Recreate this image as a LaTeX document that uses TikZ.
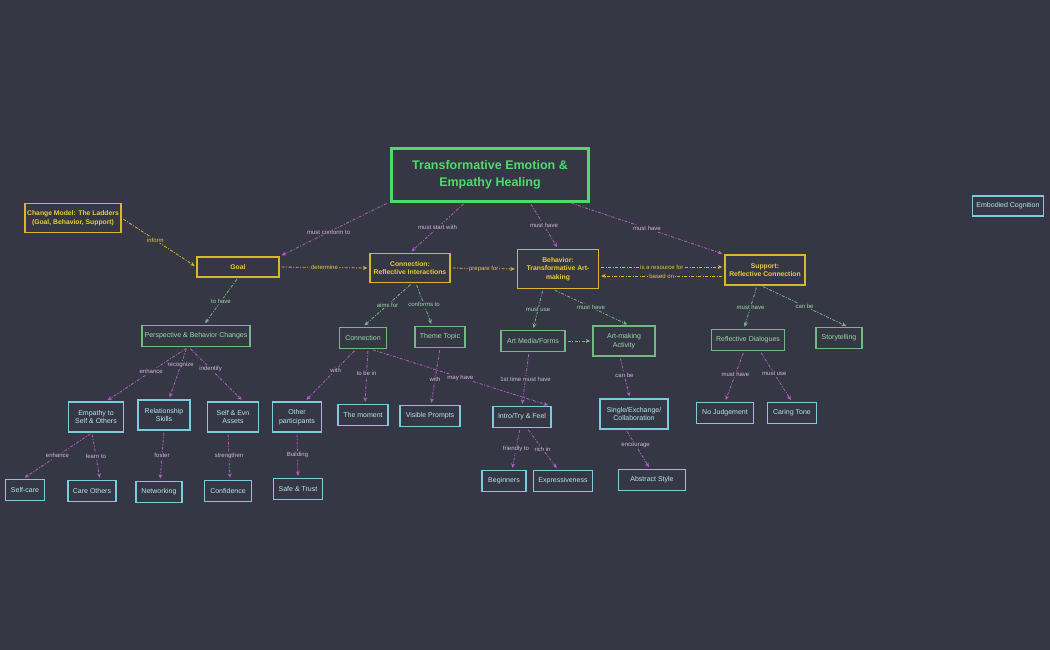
\documentclass[tikz,border=0pt]{standalone}
\usepackage{fontspec}
\setmainfont{Liberation Sans}
\usetikzlibrary{arrows.meta}
\definecolor{bg}{HTML}{353744}
\definecolor{yel}{HTML}{D9B62A}
\definecolor{ytx}{HTML}{E8CC3A}
\definecolor{tgreen}{HTML}{4EDB6C}
\definecolor{mgreen}{HTML}{74B985}
\definecolor{gtx}{HTML}{9BD9A8}
\definecolor{cyan}{HTML}{7CCCDD}
\definecolor{ctx}{HTML}{B5E6F0}
\definecolor{purp}{HTML}{B45CC6}
\definecolor{ptx}{HTML}{D7B5E2}
\tikzset{
 box/.style={draw, line width=1.4pt, fill=bg, font=\fontsize{7}{8.5}\selectfont, align=center, inner sep=0pt, minimum height=21pt},
 ybox/.style={box, draw=yel, text=ytx, font=\fontsize{6.8}{8.5}\selectfont\bfseries},
 gbox/.style={box, draw=mgreen, text=gtx},
 cbox/.style={box, draw=cyan, text=ctx},
 edge/.style={dash pattern=on 3pt off 1.5pt on 1pt off 1.5pt, line width=0.8pt, -{Stealth[length=4.5pt,width=4pt]}, shorten >=2pt, shorten <=2pt},
 pe/.style={edge, draw=purp},
 ye/.style={edge, draw=yel},
 ge/.style={edge, draw=mgreen},
 lab/.style={fill=bg, inner sep=1pt, font=\fontsize{6}{7}\selectfont},
 pl/.style={lab, text=ptx},
 yl/.style={lab, text=ytx},
 gl/.style={lab, text=gtx},
}
\begin{document}
\begin{tikzpicture}[x=1pt,y=-1pt]
\fill[bg] (0,0) rectangle (1050,650);
\useasboundingbox (0,0) rectangle (1050,650);
% nodes
\node[box, draw=tgreen, text=tgreen, line width=2.2pt, minimum width=197pt, minimum height=53pt, font=\fontsize{12.5}{17}\selectfont\bfseries] (title) at (490,175) {Transformative Emotion \&\\Empathy Healing};
\node[ybox, minimum width=96pt, minimum height=29pt] (change) at (73,218) {Change Model: The Ladders\\(Goal, Behavior, Support)};
\node[ybox, minimum width=82pt, minimum height=20pt] (goal) at (238,267) {Goal};
\node[ybox, minimum width=80pt, minimum height=29pt] (conri) at (410,268) {Connection:\\Reflective Interactions};
\node[ybox, minimum width=81pt, minimum height=39pt] (beh) at (558,269) {Behavior:\\Transformative Art-\\making};
\node[ybox, minimum width=80pt, minimum height=30pt] (sup) at (765,270) {Support:\\Reflective Connection};
\node[cbox, minimum width=71pt, minimum height=20pt] (emb) at (1008,206) {Embodied Cognition};
\node[gbox, minimum width=108pt] (pbc) at (196,336) {Perspective \& Behavior Changes};
\node[gbox, minimum width=47pt] (con) at (363,338) {Connection};
\node[gbox, minimum width=50pt] (theme) at (440,337) {Theme Topic};
\node[gbox, minimum width=64pt] (media) at (533,341) {Art Media/Forms};
\node[gbox, minimum width=62pt, minimum height=30pt] (act) at (624,341) {Art-making\\Activity};
\node[gbox, minimum width=73pt] (rd) at (748,340) {Reflective Dialogues};
\node[gbox, minimum width=46pt] (story) at (839,338) {Storytelling};
\node[cbox, minimum width=55pt, minimum height=30pt] (emp) at (96,417) {Empathy to\\Self \& Others};
\node[cbox, minimum width=52pt, minimum height=30pt] (rel) at (164,415) {Relationship\\Skills};
\node[cbox, minimum width=51pt, minimum height=30pt] (sea) at (233,417) {Self \& Evn\\Assets};
\node[cbox, minimum width=49pt, minimum height=30pt] (oth) at (297,417) {Other\\participants};
\node[cbox, minimum width=50pt] (mom) at (363,415) {The moment};
\node[cbox, minimum width=60pt] (vis) at (430,416) {Visible Prompts};
\node[cbox, minimum width=58pt] (intro) at (522,417) {Intro/Try \& Feel};
\node[cbox, minimum width=68pt, minimum height=30pt] (single) at (634,414) {Single/Exchange/\\Collaboration};
\node[cbox, minimum width=57pt] (noj) at (725,413) {No Judgement};
\node[cbox, minimum width=49pt] (care) at (792,413) {Caring Tone};
\node[cbox, minimum width=39pt] (selfc) at (25,490) {Self-care};
\node[cbox, minimum width=48pt] (careo) at (92,491) {Care Others};
\node[cbox, minimum width=46pt] (net) at (159,492) {Networking};
\node[cbox, minimum width=47pt] (conf) at (228,491) {Confidence};
\node[cbox, minimum width=49pt] (safe) at (298,489) {Safe \& Trust};
\node[cbox, minimum width=44pt] (beg) at (504,481) {Beginners};
\node[cbox, minimum width=59pt] (expr) at (563,481) {Expressiveness};
\node[cbox, minimum width=67pt] (abs) at (652,480) {Abstract Style};
% edges from title
\draw[pe] ([xshift=-2pt]title.south west) -- (goal.north east) node[pl,pos=0.55]{must conform to};
\draw[pe] ([xshift=-25pt]title.south) -- ([xshift=0pt]conri.north) node[pl,pos=0.5]{must start with};
\draw[pe] ([xshift=40pt]title.south) -- (beh.north) node[pl,pos=0.5]{must have};
\draw[pe] ([xshift=-20pt]title.south east) -- (sup.north west) node[pl,pos=0.5]{must have};
% yellow
\draw[ye] (change.east) -- (goal.west) node[yl,pos=0.45]{inform};
\draw[ye] (goal.east) -- (conri.west) node[yl,pos=0.5]{determine};
\draw[ye] (conri.east) -- (beh.west) node[yl,pos=0.5]{prepare for};
\draw[ye] ([yshift=2pt]beh.east) -- ([yshift=3pt]sup.west) node[yl,pos=0.5]{is a resource for};
\draw[ye] ([yshift=-6pt]sup.west) -- ([yshift=-7pt]beh.east) node[yl,pos=0.5]{based on};
% green
\draw[ge] (goal.south) -- ([xshift=8pt]pbc.north) node[gl,pos=0.5]{to have};
\draw[ge] ([xshift=2pt]conri.south) -- (con.north) node[gl,pos=0.5]{aims for};
\draw[ge] ([xshift=6pt]conri.south) -- ([xshift=-8pt]theme.north) node[gl,pos=0.5]{conforms to};
\draw[ge] ([xshift=-15pt]beh.south) -- (media.north) node[gl,pos=0.5]{must use};
\draw[ge] ([xshift=-5pt]beh.south) -- ([xshift=5pt]act.north) node[gl,pos=0.5]{must have};
\draw[ge] (media.east) -- (act.west);
\draw[ge] ([xshift=-8pt]sup.south) -- ([xshift=-4pt]rd.north) node[gl,pos=0.5]{must have};
\draw[ge] ([xshift=-4pt]sup.south) -- ([xshift=9pt]story.north) node[gl,pos=0.5]{can be};
% purple lower
\draw[pe] ([xshift=-8pt]pbc.south) -- ([xshift=10pt]emp.north) node[pl,pos=0.45]{enhance};
\draw[pe] ([xshift=-9pt]pbc.south) -- ([xshift=5pt]rel.north) node[pl,pos=0.35]{recognize};
\draw[pe] ([xshift=-7pt]pbc.south) -- ([xshift=10pt]sea.north) node[pl,pos=0.4]{indentify};
\draw[pe] ([xshift=-4pt]emp.south) -- ([xshift=-2pt]selfc.north) node[pl,pos=0.5]{enhance};
\draw[pe] ([xshift=-4pt]emp.south) -- ([xshift=8pt]careo.north) node[pl,pos=0.5]{learn to};
\draw[pe] (rel.south) -- ([xshift=1pt]net.north) node[pl,pos=0.5]{foster};
\draw[pe] ([xshift=-5pt]sea.south) -- ([xshift=2pt]conf.north) node[pl,pos=0.5]{strengthen};
\draw[pe] ([xshift=-7pt]con.south) -- ([xshift=8pt]oth.north) node[pl,pos=0.4]{with};
\draw[pe] ([xshift=5pt]con.south) -- ([xshift=2pt]mom.north) node[pl,pos=0.45]{to be in};
\draw[pe] ([xshift=8pt]con.south) -- ([xshift=28pt]intro.north) node[pl,pos=0.5]{may have};
\draw[pe] (theme.south) -- ([xshift=1pt]vis.north) node[pl,pos=0.55]{with};
\draw[pe] (oth.south) -- (safe.north) node[pl,pos=0.5]{Building};
\draw[pe] ([xshift=-4pt]media.south) -- (intro.north) node[pl,pos=0.5]{1st time must have};
\draw[pe] ([xshift=-4pt]act.south) -- ([xshift=-4pt]single.north) node[pl,pos=0.45]{can be};
\draw[pe] ([xshift=-8pt]single.south) -- ([xshift=-2pt]abs.north) node[pl,pos=0.4]{encourage};
\draw[pe] ([xshift=-2pt]intro.south) -- ([xshift=8pt]beg.north) node[pl,pos=0.5]{friendly to};
\draw[pe] ([xshift=5pt]intro.south) -- ([xshift=-5pt]expr.north) node[pl,pos=0.5]{rich in};
\draw[pe] ([xshift=-4pt]rd.south) -- (noj.north) node[pl,pos=0.45]{must have};
\draw[pe] ([xshift=12pt]rd.south) -- (care.north) node[pl,pos=0.45]{must use};
\end{tikzpicture}
\end{document}
